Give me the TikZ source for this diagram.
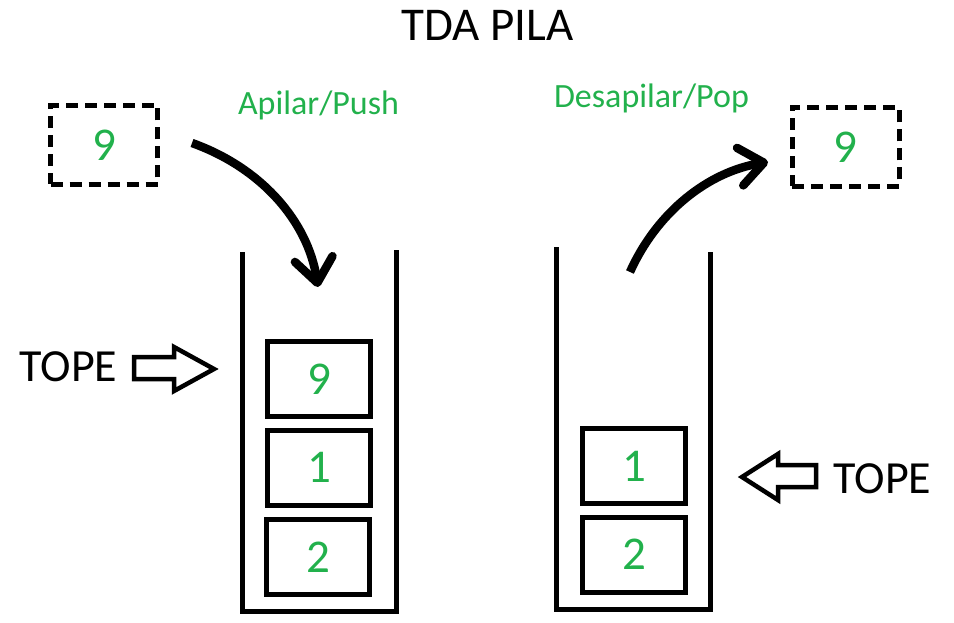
\documentclass[tikz,border=0pt]{standalone}
\usepackage{fontspec}
\setmainfont{Carlito}
\usetikzlibrary{arrows.meta}
\definecolor{pgreen}{RGB}{34,177,76}
\tikzset{
  px/.style={x=1pt,y=-1pt},
  cell/.style={draw=black,line width=5pt,minimum width=103pt,minimum height=75pt,inner sep=0pt,text=pgreen,font=\fontsize{47}{52}\selectfont},
  dbox/.style={cell,line width=5pt,dash pattern=on 12pt off 7pt,minimum width=107pt,minimum height=79pt},
  lbl/.style={text=pgreen,font=\fontsize{34}{40}\selectfont,anchor=base,inner sep=0pt},
  big/.style={font=\fontsize{46}{52}\selectfont,anchor=base,inner sep=0pt},
  wall/.style={line width=5pt,line join=miter},
  flow/.style={line width=8.5pt,line cap=butt,-{Straight Barb[length=24pt,width=38pt,line cap=round,line join=round]}},
  hollow/.style={line width=4.5pt,line join=miter,fill=white}
}
\begin{document}
\begin{tikzpicture}[px]
\useasboundingbox (0,0) rectangle (954,623);
% title
\node[big,font=\fontsize{47}{52}\selectfont] (title) at (487.5,41) {TDA PILA};
% labels
\node[lbl] (push) at (318.5,115) {Apilar/Push};
\node[lbl] (pop) at (651.5,108) {Desapilar/Pop};
% dashed boxes
\node[dbox] (inL) at (104,145) {9};
\node[dbox] (outR) at (845.5,147) {9};
% left stack
\draw[wall] (242,252) -- (242,611) -- (396,611) -- (396,250);
\node[cell] (l9) at (319,379) {9};
\node[cell] (l1) at (319,467.5) {1};
\node[cell] (l2) at (318,557) {2};
% right stack
\draw[wall] (556,247) -- (556,609) -- (710,609) -- (710,252);
\node[cell] (r1) at (634,466) {1};
\node[cell] (r2) at (634,554.5) {2};
% TOPE labels
\node[big] (topeL) at (68.5,381) {TOPE};
\node[big] (topeR) at (882.5,493) {TOPE};
% TOPE outline arrows
\draw[hollow] (134,357) -- (174,357) -- (174,347) -- (214,369) -- (174,391) -- (174,379) -- (134,379) -- cycle;
\draw[hollow] (816,465) -- (778,465) -- (778,454) -- (742,477) -- (778,500) -- (778,487) -- (816,487) -- cycle;
% push / pop arrows
\coordinate (pushS) at (192,143);
\coordinate (pushE) at (318,287);
\coordinate (popS) at (630,272);
\coordinate (popE) at (768,162);
\draw[flow] (pushS) .. controls (262,168) and (308,222) .. (pushE);
\draw[flow] (popS) .. controls (657,212) and (708,172) .. (popE);
\end{tikzpicture}
\end{document}
